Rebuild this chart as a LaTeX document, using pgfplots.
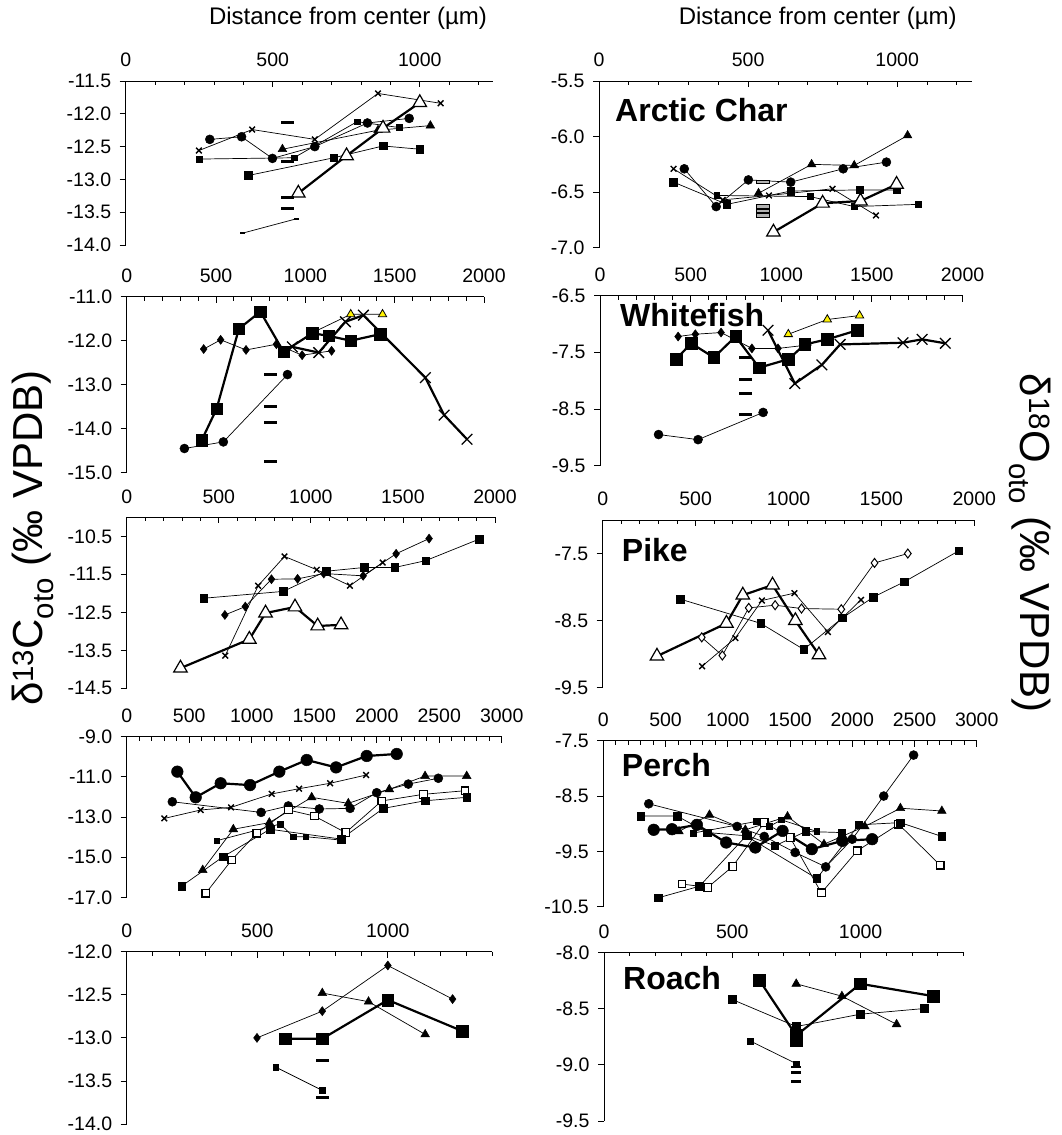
\documentclass[border=0pt]{standalone}
\usepackage{fontspec}
\setmainfont{Liberation Sans}
\usepackage{pgfplots}
\pgfplotsset{compat=1.18}

\newcommand{\tickfont}{\fontsize{19.5}{21}\selectfont}
\newcommand{\axtitlefont}{\fontsize{24}{26}\selectfont}
\newcommand{\fishfont}{\bfseries\fontsize{32}{34}\selectfont}
\newcommand{\ylabfont}{\fontsize{42}{44}\selectfont}

\pgfplotsset{
  panel/.style={
    scale only axis,
    anchor=north west,
    axis x line=top, axis y line=left,
    axis line style={-, line width=0.9pt},
    tick align=inside,
    major tick length=6pt, minor tick length=4pt,
    tick style={line width=0.8pt, black},
    y tick style={xshift=-6pt},
    xticklabel style={font=\tickfont, yshift=10.5pt},
    yticklabel style={font=\tickfont, xshift=-11pt},
    /pgf/number format/assume math mode=true,
    /pgf/number format/1000 sep={},
    yticklabel={\pgfmathprintnumber[fixed,fixed zerofill,precision=1]{\tick}},
    xticklabel={\pgfmathprintnumber[fixed,precision=0]{\tick}},
    clip=false,
  },
  thin/.style={black, line width=0.7pt},
  thick/.style={black, line width=2.2pt},
  mcirc/.style={mark=*, mark size=4.5pt, mark options={solid, line width=0.5pt}},
  mbigcirc/.style={mark=*, mark size=5.8pt, mark options={solid, line width=0.5pt}},
  mcross/.style={mark=x, mark size=4pt, mark options={solid, line width=1.4pt}},
  mbigcross/.style={mark=x, mark size=7.5pt, mark options={solid, line width=1.3pt}},
  msq/.style={mark=square*, mark size=3.8pt, mark options={solid, line width=0.5pt}},
  msmallsq/.style={mark=square*, mark size=2.9pt, mark options={solid, line width=0.5pt}},
  mbigsq/.style={mark=square*, mark size=5.8pt, mark options={solid, line width=0.5pt}},
  mopensq/.style={mark=square*, mark size=3.8pt, mark options={solid, fill=white, line width=1.2pt}},
  mtri/.style={mark=triangle*, mark size=5pt, mark options={solid, line width=0.5pt}},
  mytri/.style={mark=triangle*, mark size=4.8pt, mark options={solid, fill=yellow, draw=black, line width=0.8pt}},
  mopentri/.style={mark=triangle*, mark size=7.8pt, mark options={solid, fill=white, line width=1.2pt}},
  mdia/.style={mark=diamond*, mark size=4.5pt, mark options={solid, line width=0.5pt}},
  mopendia/.style={mark=diamond*, mark size=4.5pt, mark options={solid, fill=white, line width=1pt}},
  mdash/.style={only marks, mark=-, mark size=6.5pt, mark options={solid, line width=2.8pt}},
  mgreydash/.style={only marks, mark=square*, mark size=3.2pt,
    mark options={solid, fill=gray!60, draw=black, line width=1pt, xscale=2, yscale=0.55}},
}

\begin{document}
\begin{tikzpicture}
\path[use as bounding box] (0,0) rectangle (1061pt,-1135pt);

% ---------------- Arctic Char, carbon ----------------
\begin{axis}[panel, at={(125.7pt,-81pt)}, width=367.6pt, height=164pt,
  xmin=0, xmax=1250, ymin=-14, ymax=-11.5,
  xtick={0,500,1000}, minor xtick={100,200,...,1200},
  ytick={-14,-13.5,...,-11.5}]
\addplot[thin, mcross] coordinates {(249,-12.56) (430,-12.24) (643,-12.39) (858,-11.69) (1071,-11.84)};
\addplot[thin, mcirc] coordinates {(286,-12.39) (394,-12.35) (499,-12.68) (643,-12.50) (822,-12.14) (964,-12.07)};
\addplot[thin, msmallsq] coordinates {(249,-12.69) (572,-12.67) (787,-12.12) (930,-12.21)};
\addplot[thin, msq] coordinates {(417,-12.94) (708,-12.67) (875,-12.49) (1000,-12.54)};
\addplot[thin, mtri] coordinates {(533,-12.54) (858,-12.25) (1036,-12.18)};
\addplot[thick, mopentri] coordinates {(587,-13.21) (751,-12.64) (875,-12.22) (1000,-11.83)};
\addplot[mdash] coordinates {(550,-12.13) (550,-12.73) (550,-13.27) (550,-13.44)};
\addplot[thin, mark=-, mark size=2.5pt, mark options={solid, line width=1.5pt}] coordinates {(397,-13.82) (581,-13.60)};
\end{axis}

% ---------------- Arctic Char, oxygen ----------------
\begin{axis}[panel, at={(599pt,-81pt)}, width=372.7pt, height=166.7pt,
  xmin=0, xmax=1250, ymin=-7, ymax=-5.5,
  xtick={0,500,1000}, minor xtick={100,200,...,1200},
  ytick={-7,-6.5,...,-5.5}]
\addplot[thin, mcirc] coordinates {(286,-6.29) (393,-6.63) (501,-6.39) (643,-6.41) (819,-6.29) (964,-6.23)};
\addplot[thin, mtri] coordinates {(535,-6.51) (713,-6.25) (856,-6.26) (1035,-5.99)};
\addplot[thin, mcross] coordinates {(250,-6.29) (415,-6.57) (570,-6.53) (783,-6.47) (929,-6.71)};
\addplot[thin, msq] coordinates {(250,-6.41) (429,-6.61) (643,-6.49) (875,-6.48) (998,-6.48)};
\addplot[thin, msmallsq] coordinates {(395,-6.53) (708,-6.54) (856,-6.63) (1070,-6.61)};
\addplot[thick, mopentri] coordinates {(585,-6.86) (750,-6.60) (877,-6.58) (998,-6.43)};
\addplot[mgreydash] coordinates {(549,-6.41) (549,-6.63) (549,-6.67) (549,-6.71)};
\end{axis}

% ---------------- Whitefish, carbon ----------------
\begin{axis}[panel, at={(126.7pt,-296.7pt)}, width=357.3pt, height=176pt,
  xmin=0, xmax=2000, ymin=-15, ymax=-11,
  xtick={0,500,...,2000}, minor xtick={100,200,...,1900},
  ytick={-15,-14,...,-11}]
\addplot[thin, mdia] coordinates {(431,-12.19) (526,-11.98) (668,-12.21) (838,-12.08) (982,-12.33) (1147,-12.23)};
\addplot[thin, mcirc] coordinates {(323,-14.45) (541,-14.30) (900,-12.77)};
\addplot[thin, mytri] coordinates {(1039,-11.82) (1254,-11.40) (1432,-11.40)};
\addplot[thick, mbigsq] coordinates {(420,-14.26) (503,-13.55) (628,-11.73) (748,-11.34) (878,-12.25) (1040,-11.83) (1130,-11.89) (1254,-12.00) (1420,-11.85)};
\addplot[thick, mbigcross] coordinates {(927,-12.14) (1075,-12.27) (1224,-11.57) (1325,-11.42) (1672,-12.84) (1777,-13.69) (1905,-14.24)};
\addplot[mdash] coordinates {(804,-12.77) (804,-13.50) (804,-13.86) (804,-14.75)};
\end{axis}

% ---------------- Whitefish, oxygen ----------------
\begin{axis}[panel, at={(600pt,-295.7pt)}, width=362.5pt, height=170pt,
  xmin=0, xmax=2000, ymin=-9.5, ymax=-6.5,
  xtick={0,500,...,2000}, minor xtick={100,200,...,1900},
  ytick={-9.5,-8.5,...,-6.5}]
\addplot[thin, mdia] coordinates {(431,-7.22) (526,-7.18) (668,-7.15) (838,-7.43) (982,-7.43) (1147,-7.37)};
\addplot[thin, mcirc] coordinates {(323,-8.95) (541,-9.04) (900,-8.56)};
\addplot[thin, mytri] coordinates {(1039,-7.18) (1254,-6.92) (1432,-6.85)};
\addplot[thick, mbigsq] coordinates {(420,-7.62) (503,-7.34) (628,-7.59) (748,-7.22) (878,-7.77) (1040,-7.62) (1130,-7.36) (1254,-7.27) (1420,-7.11)};
\addplot[thick, mbigcross] coordinates {(927,-7.11) (1075,-8.05) (1224,-7.72) (1325,-7.36) (1672,-7.33) (1777,-7.27) (1905,-7.34)};
\addplot[mdash] coordinates {(804,-7.59) (804,-7.98) (804,-8.22) (804,-8.59)};
\end{axis}

% ---------------- Pike, carbon ----------------
\begin{axis}[panel, at={(126.7pt,-517.3pt)}, width=368.3pt, height=171pt,
  xmin=0, xmax=2000, ymin=-14.5, ymax=-10,
  xtick={0,500,...,2000}, minor xtick={100,200,...,1900},
  ytick={-14.5,-13.5,...,-10.5}]
\addplot[thin, msq] coordinates {(418,-12.13) (850,-11.95) (1082,-11.42) (1290,-11.32) (1456,-11.32) (1624,-11.14) (1916,-10.57)};
\addplot[thin, mdia] coordinates {(533,-12.57) (644,-12.35) (786,-11.63) (928,-11.62) (1070,-11.48) (1284,-11.54) (1463,-10.96) (1642,-10.56)};
\addplot[thin, mcross] coordinates {(535,-13.64) (714,-11.80) (857,-11.03) (1032,-11.38) (1212,-11.80) (1390,-11.19)};
\addplot[thick, mopentri] coordinates {(292,-13.97) (666,-13.21) (754,-12.52) (914,-12.36) (1037,-12.86) (1164,-12.83)};
\end{axis}

% ---------------- Pike, oxygen ----------------
\begin{axis}[panel, at={(602.7pt,-520pt)}, width=371.6pt, height=167.7pt,
  xmin=0, xmax=2000, ymin=-9.5, ymax=-7,
  xtick={0,500,...,2000}, minor xtick={100,200,...,1900},
  ytick={-9.5,-8.5,-7.5}]
\addplot[thin, msq] coordinates {(418,-8.18) (850,-8.54) (1082,-8.93) (1290,-8.46) (1456,-8.15) (1624,-7.92) (1916,-7.46)};
\addplot[thin, mopendia] coordinates {(533,-8.75) (644,-9.02) (786,-8.31) (928,-8.27) (1070,-8.32) (1284,-8.33) (1463,-7.64) (1642,-7.50)};
\addplot[thin, mcross] coordinates {(535,-9.18) (714,-8.76) (857,-8.20) (1032,-8.09) (1212,-8.67) (1390,-8.19)};
\addplot[thick, mopentri] coordinates {(292,-9.03) (666,-8.54) (754,-8.12) (914,-7.97) (1037,-8.50) (1164,-9.01)};
\end{axis}

% ---------------- Perch, carbon ----------------
\begin{axis}[panel, at={(126.7pt,-736.7pt)}, width=375pt, height=160.6pt,
  xmin=0, xmax=3000, ymin=-17, ymax=-9,
  xtick={0,500,...,3000}, minor xtick={100,200,...,2900},
  ytick={-17,-15,...,-9}]
\addplot[thin, mcross] coordinates {(301,-13.07) (592,-12.65) (835,-12.52) (1160,-11.85) (1379,-11.59) (1627,-11.32) (1915,-10.91)};
\addplot[thin, mcirc] coordinates {(365,-12.24) (1075,-12.77) (1293,-12.45) (1541,-12.60) (1787,-12.57) (2000,-11.79) (2253,-11.36) (2493,-11.07)};
\addplot[thin, mtri] coordinates {(608,-15.64) (853,-13.61) (1141,-13.28) (1480,-12.02) (1773,-12.32) (2101,-11.62) (2387,-10.96) (2720,-10.96)};
\addplot[thin, mopensq] coordinates {(632,-16.80) (840,-15.14) (1040,-13.81) (1293,-12.65) (1501,-12.95) (1752,-13.78) (2040,-12.20) (2373,-11.87) (2707,-11.69)};
\addplot[thin, msq] coordinates {(440,-16.44) (773,-14.97) (1147,-13.61) (1715,-14.10) (2053,-12.57) (2387,-12.19) (2720,-12.02)};
\addplot[thin, msmallsq] coordinates {(720,-14.18) (1227,-13.35) (1333,-13.98) (1432,-13.98) (1715,-14.15)};
\addplot[thick, mbigcirc] coordinates {(405,-10.74) (552,-12.02) (752,-11.32) (987,-11.41) (1221,-10.74) (1440,-10.16) (1675,-10.53) (1920,-9.96) (2160,-9.86)};
\end{axis}

% ---------------- Perch, oxygen ----------------
\begin{axis}[panel, at={(603.3pt,-740.7pt)}, width=373.4pt, height=166pt,
  xmin=0, xmax=3000, ymin=-10.5, ymax=-7.5,
  xtick={0,500,...,3000}, minor xtick={100,200,...,2900},
  ytick={-10.5,-9.5,...,-7.5}]
\addplot[thin, msq] coordinates {(301,-8.86) (592,-8.86) (835,-9.16) (1160,-9.22) (1379,-9.40) (1627,-9.14) (1915,-9.16)};
\addplot[thin, mcirc] coordinates {(365,-8.64) (1075,-9.05) (1293,-9.23) (1541,-9.52) (1787,-9.78) (2000,-9.28) (2253,-8.50) (2493,-7.76)};
\addplot[thin, mtri] coordinates {(608,-9.14) (853,-8.84) (1141,-9.11) (1480,-8.87) (1773,-9.37) (2101,-9.05) (2387,-8.72) (2720,-8.77)};
\addplot[thin, mopensq] coordinates {(632,-10.09) (840,-10.15) (1040,-9.77) (1293,-8.98) (1501,-9.25) (1752,-10.25) (2040,-9.49) (2373,-9.01) (2707,-9.75)};
\addplot[thin, msq] coordinates {(440,-10.34) (773,-10.13) (1147,-9.22) (1715,-9.99) (2053,-9.02) (2387,-8.98) (2720,-9.23)};
\addplot[thin, msmallsq] coordinates {(720,-9.17) (1227,-8.96) (1333,-9.05) (1432,-8.93) (1715,-9.14)};
\addplot[thick, mbigcirc] coordinates {(405,-9.11) (552,-9.10) (752,-9.02) (987,-9.34) (1221,-9.43) (1440,-9.13) (1675,-9.46) (1920,-9.31) (2160,-9.28)};
\end{axis}

% ---------------- Roach, carbon ----------------
\begin{axis}[panel, at={(126.7pt,-951.7pt)}, width=365.6pt, height=172.3pt,
  xmin=0, xmax=1400, ymin=-14, ymax=-12,
  xtick={0,500,1000}, minor xtick={100,200,...,1400},
  ytick={-14,-13.5,...,-12}]
\addplot[thin, mdia] coordinates {(499,-13.00) (749,-12.69) (1000,-12.16) (1248,-12.55)};
\addplot[thin, mtri] coordinates {(749,-12.48) (926,-12.58) (1143,-12.96)};
\addplot[thin, msmallsq] coordinates {(571,-13.34) (749,-13.61)};
\addplot[mdash] coordinates {(749,-13.26) (749,-13.69)};
\addplot[thick, mbigsq] coordinates {(608,-13.01) (749,-13.01) (1000,-12.56) (1284,-12.92)};
\end{axis}

% ---------------- Roach, oxygen ----------------
\begin{axis}[panel, at={(604pt,-952.3pt)}, width=359.3pt, height=168.7pt,
  xmin=0, xmax=1400, ymin=-9.5, ymax=-8,
  xtick={0,500,1000}, minor xtick={100,200,...,1400},
  ytick={-9.5,-9,...,-8}]
\addplot[thin, msq] coordinates {(500,-8.42) (749,-8.66) (999,-8.55) (1247,-8.50)};
\addplot[thin, mtri] coordinates {(749,-8.28) (927,-8.39) (1140,-8.64)};
\addplot[thin, msmallsq] coordinates {(571,-8.79) (749,-8.99)};
\addplot[mdash, mark size=5pt] coordinates {(749,-9.02) (749,-9.07) (749,-9.15)};
\addplot[only marks, mbigsq] coordinates {(749,-8.78)};
\addplot[thick, mbigsq] coordinates {(606,-8.25) (749,-8.74) (999,-8.28) (1284,-8.39)};
\end{axis}

% axis titles and panel names
\node[font=\axtitlefont] at (348pt,-18pt) {Distance from center (µm)};
\node[font=\axtitlefont] at (817.7pt,-18pt) {Distance from center (µm)};
\node[font=\fishfont, anchor=west, inner sep=0pt] at (615pt,-110pt) {Arctic Char};
\node[font=\fishfont, anchor=west, inner sep=0pt] at (620pt,-315pt) {Whitefish};
\node[font=\fishfont, anchor=west, inner sep=0pt] at (621.7pt,-550pt) {Pike};
\node[font=\fishfont, anchor=west, inner sep=0pt] at (621.7pt,-765pt) {Perch};
\node[font=\fishfont, anchor=west, inner sep=0pt] at (623pt,-978pt) {Roach};
\node[font=\ylabfont, rotate=90] at (33pt,-538pt) {δ\textsuperscript{13}C\textsubscript{oto} (‰ VPDB)};
\node[font=\ylabfont, rotate=-90] at (1030pt,-543pt) {δ\textsuperscript{18}O\textsubscript{oto} (‰ VPDB)};
\end{tikzpicture}
\end{document}
